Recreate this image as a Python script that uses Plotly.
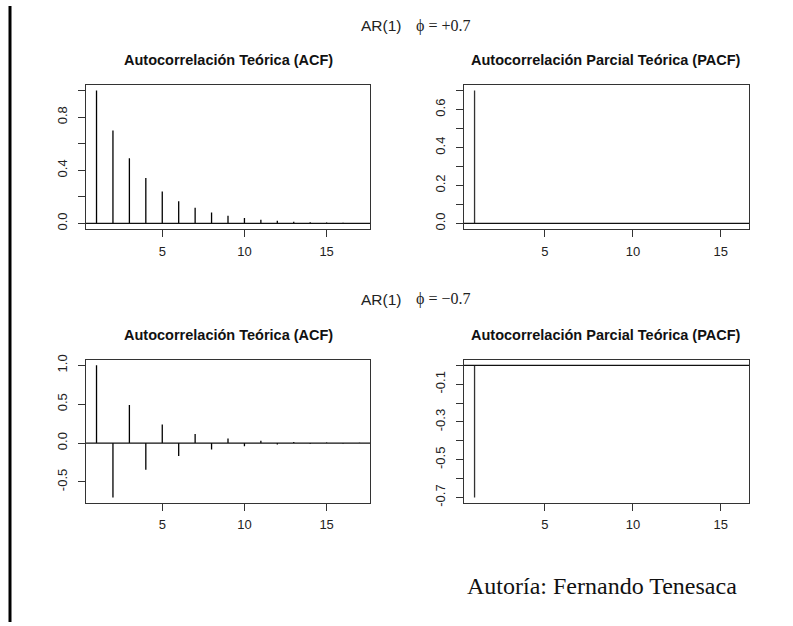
import plotly.graph_objects as go

W, H = 793, 626

# ---------------- data ----------------
lags_acf = [1, 2, 3, 4, 5, 6, 7, 8, 9, 10, 11, 12, 13, 14, 15, 16, 17]
acf_pos = [1.0, 0.7, 0.49, 0.343, 0.2401, 0.1681, 0.1176, 0.0824, 0.0576,
           0.0404, 0.0282, 0.0198, 0.0138, 0.0097, 0.0068, 0.0047, 0.0033]
acf_neg = [1.0, -0.7, 0.49, -0.343, 0.2401, -0.1681, 0.1176, -0.0824, 0.0576,
           -0.0404, 0.0282, -0.0198, 0.0138, -0.0097, 0.0068, -0.0047, 0.0033]
lags_pacf = [1, 2, 3, 4, 5, 6, 7, 8, 9, 10, 11, 12, 13, 14, 15, 16]
pacf_pos = [0.7, 0.0, 0.0, 0.0, 0.0, 0.0, 0.0, 0.0, 0.0, 0.0, 0.0, 0.0, 0.0, 0.0, 0.0, 0.0]
pacf_neg = [-0.7, 0.0, 0.0, 0.0, 0.0, 0.0, 0.0, 0.0, 0.0, 0.0, 0.0, 0.0, 0.0, 0.0, 0.0, 0.0]

x_ticks = [5, 10, 15]
y1_vals = [0.0, 0.2, 0.4, 0.6, 0.8, 1.0]
y1_text = ["0.0", "", "0.4", "", "0.8", ""]
y2_vals = [0.0, 0.1, 0.2, 0.3, 0.4, 0.5, 0.6, 0.7]
y2_text = ["0.0", "", "0.2", "", "0.4", "", "0.6", ""]
y3_vals = [-0.5, 0.0, 0.5, 1.0]
y3_text = ["-0.5", "0.0", "0.5", "1.0"]
y4_vals = [-0.7, -0.6, -0.5, -0.4, -0.3, -0.2, -0.1, 0.0]
y4_text = ["-0.7", "", "-0.5", "", "-0.3", "", "-0.1", ""]

title_acf = "Autocorrelación Teórica (ACF)"
title_pacf = "Autocorrelación Parcial Teórica (PACF)"
main_label = "AR(1)"
phi_pos = "ϕ = +0.7"
phi_neg = "ϕ = −0.7"
footer = "Autoría: Fernando Tenesaca"

# ---------------- helpers ----------------
def stems(xv, yv):
    xs, ys = [], []
    for a, b in zip(xv, yv):
        xs += [a, a, None]
        ys += [0, b, None]
    return xs, ys

def px_x(p):
    return p / W

def px_y(p):
    return 1 - p / H

fig = go.Figure()

panels = [
    ("x", "y", lags_acf, acf_pos, "#000000"),
    ("x2", "y2", lags_pacf, pacf_pos, "#333333"),
    ("x3", "y3", lags_acf, acf_neg, "#000000"),
    ("x4", "y4", lags_pacf, pacf_neg, "#333333"),
]
for xa, ya, xv, yv, col in panels:
    xs, ys = stems(xv, yv)
    fig.add_trace(go.Scatter(x=xs, y=ys, mode="lines", xaxis=xa, yaxis=ya,
                             line=dict(color=col, width=1.3), showlegend=False,
                             hoverinfo="skip"))
    fig.add_shape(type="line", xref=f"{xa} domain", yref=ya, x0=0, x1=1, y0=0, y1=0,
                  line=dict(color="#111111", width=1.3))

axis_common = dict(showline=True, mirror=True, linecolor="#333333", linewidth=1.3,
                   showgrid=False, zeroline=False, ticks="outside", ticklen=7,
                   tickcolor="#333333", tickwidth=1,
                   tickfont=dict(family="Liberation Sans, Arial", size=13, color="#222222"))
xstand = dict(ticklabelstandoff=3)
ystand = dict(ticklabelstandoff=6)

left_dom = [px_x(86), px_x(370)]
right_dom = [px_x(464), px_x(749)]
top_dom = [px_y(226.4), px_y(80.6)]
bot_dom = [px_y(504.8), px_y(359.8)]

fig.update_layout(
    width=W, height=H, margin=dict(l=0, r=0, t=0, b=0),
    paper_bgcolor="white", plot_bgcolor="white", showlegend=False,
    xaxis=dict(domain=left_dom, anchor="y", range=[0.36, 17.64], tickvals=x_ticks, **xstand, **axis_common),
    yaxis=dict(domain=top_dom, anchor="x", range=[-0.04, 1.04], tickvals=y1_vals,
               ticktext=y1_text, tickangle=-90, **ystand, **axis_common),
    xaxis2=dict(domain=right_dom, anchor="y2", range=[0.4, 16.6], tickvals=x_ticks, **xstand, **axis_common),
    yaxis2=dict(domain=top_dom, anchor="x2", range=[-0.028, 0.728], tickvals=y2_vals,
                ticktext=y2_text, tickangle=-90, **ystand, **axis_common),
    xaxis3=dict(domain=left_dom, anchor="y3", range=[0.36, 17.64], tickvals=x_ticks, **xstand, **axis_common),
    yaxis3=dict(domain=bot_dom, anchor="x3", range=[-0.768, 1.068], tickvals=y3_vals,
                ticktext=y3_text, tickangle=-90, **ystand, **axis_common),
    xaxis4=dict(domain=right_dom, anchor="y4", range=[0.4, 16.6], tickvals=x_ticks, **xstand, **axis_common),
    yaxis4=dict(domain=bot_dom, anchor="x4", range=[-0.728, 0.028], tickvals=y4_vals,
                ticktext=y4_text, tickangle=-90, **ystand, **axis_common),
)

bold_font = dict(family="Liberation Sans, Arial", size=14.5, color="#111111")
sans_main = dict(family="Liberation Sans, Arial", size=15.5, color="#222222")
serif_main = dict(family="Liberation Serif, DejaVu Serif, Times New Roman", size=16, color="#222222")

annots = []
for yc, phi in [(20, phi_pos), (298, phi_neg)]:
    annots.append(dict(text=main_label, x=px_x(403), y=px_y(yc), xref="paper", yref="paper",
                       xanchor="right", yanchor="middle", showarrow=False, font=sans_main))
    annots.append(dict(text=phi, x=px_x(414), y=px_y(yc), xref="paper", yref="paper",
                       xanchor="left", yanchor="middle", showarrow=False, font=serif_main))
for yc in [55, 334]:
    annots.append(dict(text="<b>" + title_acf + "</b>", x=px_x(228), y=px_y(yc), xref="paper",
                       yref="paper", xanchor="center", yanchor="middle", showarrow=False,
                       font=bold_font))
    annots.append(dict(text="<b>" + title_pacf + "</b>", x=px_x(606), y=px_y(yc), xref="paper",
                       yref="paper", xanchor="center", yanchor="middle", showarrow=False,
                       font=bold_font))
annots.append(dict(text=footer, x=px_x(465), y=px_y(589), xref="paper", yref="paper",
                   xanchor="left", yanchor="middle", showarrow=False,
                   font=dict(family="Liberation Serif, Times New Roman", size=24, color="#111111")))
fig.update_layout(annotations=annots)

# left black border line
fig.add_shape(type="line", xref="paper", yref="paper", x0=px_x(10), x1=px_x(10), y0=0, y1=1,
              line=dict(color="black", width=3))

fig.write_html("out.html")
